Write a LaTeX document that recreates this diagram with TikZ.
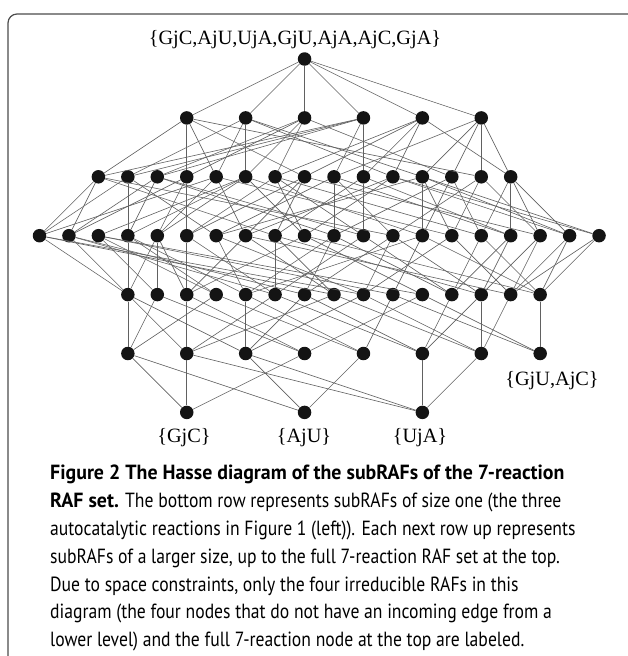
\documentclass[tikz,border=0pt]{standalone}
\usepackage{fontspec}
\setmainfont{Liberation Serif}
\newfontfamily\capfont{PT Sans}[UprightFeatures={FakeStretch=0.86}, BoldFeatures={FakeStretch=0.97}]
\usetikzlibrary{positioning}

\begin{document}
\begin{tikzpicture}[
    x=1pt, y=-1pt,
    raf/.style={circle, fill=black!92, inner sep=0pt, minimum size=13.5pt},
    cover/.style={draw=black!62, line width=0.6pt},
    setlabel/.style={font=\fontsize{20.3}{24}\selectfont, inner sep=0pt},
    frame/.style={draw=black!70, line width=1.2pt, rounded corners=9pt}
]
\useasboundingbox (0,0) rectangle (628,656);
\draw[frame] (628,14) -- (8,14) -- (8,656);

% ---- Size 7 ----
\node[raf] (abcdefg) at ({39.5+29.45*9},59) {};
% ---- Size 6 ----
\foreach \n/\i in {abcefg/5, abcdfg/7, abcdef/9, abcdeg/11, acdefg/13, bcdefg/15}
  \node[raf] (\n) at ({39.5+29.45*\i},117.9) {};
% ---- Size 5 ----
\foreach \n/\i in {abceg/2, abcdg/3, abcde/4, abcef/5, abcfg/6, abcdf/7, acdef/8, acefg/9,
                   bcdeg/10, acdeg/11, acdfg/12, bcdfg/13, bcdef/14, bcefg/15, cdefg/16}
  \node[raf] (\n) at ({39.5+29.45*\i},176.8) {};
% ---- Size 4 ----
\foreach \n/\i in {abcg/0, abce/1, abdf/2, abcd/3, abcf/4, acef/5, bcdg/6, acfg/7, aceg/8, acdf/9,
                   bcde/10, acde/11, bceg/12, bcdf/13, bcfg/14, cdef/15, cdeg/16, cefg/17, cdfg/18, xtra/19}
  \node[raf] (\n) at ({39.5+29.45*\i},235.7) {};
% ---- Size 3 ----
\foreach \n/\i in {abc/3, abf/4, acf/5, abd/6, bcd/7, ace/8, bce/9, acg/10, bcg/11, bdf/12,
                   adf/13, cde/14, ceg/15, cfg/16, cdf/17}
  \node[raf] (\n) at ({39.5+29.45*\i},294.6) {};
% ---- Size 2 ----
\foreach \n/\i in {ab/3, ac/5, bc/7, af/9, bd/11, ce/13, cg/15, df/17}
  \node[raf] (\n) at ({39.5+29.45*\i},353.5) {};
% ---- Size 1 ----
\foreach \n/\i in {a/5, b/9, c/13}
  \node[raf] (\n) at ({39.5+29.45*\i},412.4) {};

% ---- Covering edges ----
\foreach \u in {bcdefg, acdefg, abcefg, abcdfg, abcdeg, abcdef}
  \draw[cover] (abcdefg) -- (\u);
\foreach \u/\l in {bcdefg/cdefg, bcdefg/bcefg, bcdefg/bcdfg, bcdefg/bcdeg, bcdefg/bcdef,
                   acdefg/cdefg, acdefg/acefg, acdefg/acdfg, acdefg/acdeg, acdefg/acdef,
                   abcefg/bcefg, abcefg/acefg, abcefg/abcfg, abcefg/abceg, abcefg/abcef,
                   abcdfg/bcdfg, abcdfg/acdfg, abcdfg/abcfg, abcdfg/abcdg, abcdfg/abcdf,
                   abcdeg/bcdeg, abcdeg/acdeg, abcdeg/abceg, abcdeg/abcdg, abcdeg/abcde,
                   abcdef/bcdef, abcdef/acdef, abcdef/abcef, abcdef/abcdf, abcdef/abcde}
  \draw[cover] (\u) -- (\l);
\foreach \u/\l in {cdefg/cdef, cdefg/cdeg, cdefg/cdfg, cdefg/cefg,
                   bcefg/bceg, bcefg/bcfg, bcefg/cefg,
                   bcdfg/bcdf, bcdfg/bcdg, bcdfg/bcfg, bcdfg/cdfg,
                   bcdeg/bcde, bcdeg/bcdg, bcdeg/bceg, bcdeg/cdeg,
                   bcdef/bcde, bcdef/bcdf, bcdef/cdef,
                   acefg/acef, acefg/aceg, acefg/acfg, acefg/cefg,
                   acdfg/acdf, acdfg/acfg, acdfg/cdfg,
                   acdeg/acde, acdeg/aceg, acdeg/cdeg,
                   acdef/acde, acdef/acdf, acdef/acef, acdef/cdef,
                   abcfg/abcf, abcfg/abcg, abcfg/acfg, abcfg/bcfg,
                   abceg/abce, abceg/abcg, abceg/aceg, abceg/bceg,
                   abcef/abce, abcef/abcf, abcef/acef,
                   abcdg/abcd, abcdg/abcg, abcdg/bcdg,
                   abcdf/abcd, abcdf/abcf, abcdf/acdf, abcdf/bcdf, abcdf/abdf,
                   abcde/abcd, abcde/abce, abcde/acde, abcde/bcde,
                   acdfg/xtra, bcdfg/xtra}
  \draw[cover] (\u) -- (\l);
\foreach \u/\l in {abcd/abc, abcd/abd, abcd/bcd, abce/abc, abce/ace, abce/bce,
                   abcf/abc, abcf/abf, abcf/acf, abcg/abc, abcg/acg, abcg/bcg,
                   abdf/abd, abdf/abf, abdf/adf, abdf/bdf, acde/ace, acde/cde,
                   acdf/acf, acdf/adf, acdf/cdf, acef/ace, acef/acf,
                   aceg/ace, aceg/acg, aceg/ceg, acfg/acf, acfg/acg, acfg/cfg,
                   bcde/bcd, bcde/bce, bcde/cde, bcdf/bcd, bcdf/bdf, bcdf/cdf,
                   bcdg/bcd, bcdg/bcg, bceg/bce, bceg/bcg, bceg/ceg,
                   bcfg/bcg, bcfg/cfg, cdef/cde, cdef/cdf, cdeg/cde, cdeg/ceg,
                   cdfg/cdf, cdfg/cfg, cefg/ceg, cefg/cfg, xtra/cdf, xtra/cfg}
  \draw[cover] (\u) -- (\l);
\foreach \u/\l in {abc/ab, abc/ac, abc/bc, abd/ab, abd/bd, abf/ab, abf/af, ace/ac, ace/ce,
                   acf/ac, acf/af, acg/ac, acg/cg, adf/af, adf/df, bcd/bc, bcd/bd,
                   bce/bc, bce/ce, bcg/bc, bcg/cg, bdf/bd, bdf/df, ceg/ce, ceg/cg,
                   cde/ce, cdf/df, cfg/cg}
  \draw[cover] (\u) -- (\l);
\foreach \u/\l in {ab/a, ab/b, ac/a, ac/c, bc/b, bc/c, af/a, bd/b, ce/c, cg/c}
  \draw[cover] (\u) -- (\l);

% ---- Labels ----
\node[setlabel] (toplabel) at (295,40) {\{GjC,AjU,UjA,GjU,AjA,AjC,GjA\}};
\node[setlabel] (labela) at (184,438) {\{GjC\}};
\node[setlabel] (labelb) at (304,438) {\{AjU\}};
\node[setlabel] (labelc) at (420,438) {\{UjA\}};
\node[setlabel] (labeldf) at (552,381) {\{GjU,AjC\}};

% ---- Caption ----
\node[anchor=north west, inner sep=0pt, align=left,
      font={\capfont\fontsize{20.5}{27.8}\selectfont}] (caption) at (50,465)
  {\textbf{Figure 2 The Hasse diagram of the subRAFs of the 7-reaction}\\
   \textbf{RAF set.} The bottom row represents subRAFs of size one (the three\\
   autocatalytic reactions in Figure 1 (left)). Each next row up represents\\
   subRAFs of a larger size, up to the full 7-reaction RAF set at the top.\\
   Due to space constraints, only the four irreducible RAFs in this\\
   diagram (the four nodes that do not have an incoming edge from a\\
   lower level) and the full 7-reaction node at the top are labeled.};
\end{tikzpicture}
\end{document}
